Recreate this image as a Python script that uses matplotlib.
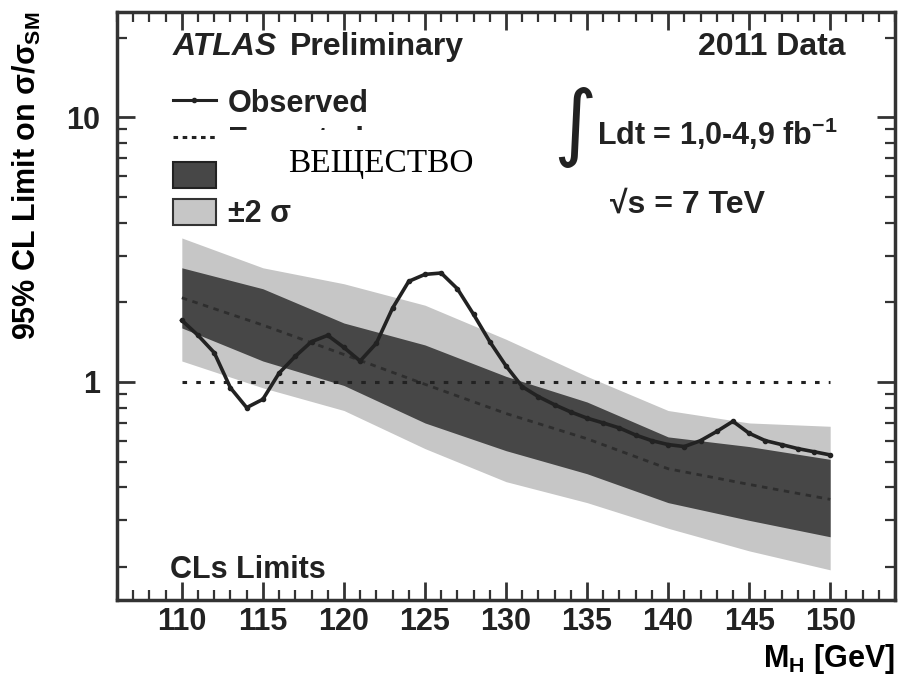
import matplotlib
matplotlib.use("Agg")
import matplotlib.pyplot as plt
from matplotlib.lines import Line2D
from matplotlib.patches import Patch, Rectangle
from matplotlib.ticker import MultipleLocator, FuncFormatter, NullFormatter, LogLocator

# Higgs mass points for the expected limit and bands
mass_band = [110, 115, 120, 125, 130, 135, 140, 145, 150]
exp_lim = [2.08, 1.64, 1.27, 0.98, 0.76, 0.61, 0.47, 0.41, 0.36]
band1_lo = [1.60, 1.20, 0.97, 0.70, 0.55, 0.45, 0.35, 0.30, 0.26]
band1_hi = [2.70, 2.25, 1.67, 1.38, 1.05, 0.84, 0.62, 0.57, 0.51]
band2_lo = [1.20, 0.95, 0.78, 0.56, 0.42, 0.35, 0.28, 0.23, 0.195]
band2_hi = [3.50, 2.70, 2.35, 1.95, 1.45, 1.05, 0.78, 0.70, 0.68]

# observed limit
obs_mass = [110, 111, 112, 113, 114, 115, 116, 117, 118, 119, 120,
            121, 122, 123, 124, 125, 126, 127, 128, 129, 130,
            131, 132, 133, 134, 135, 136, 137, 138, 139, 140,
            141, 142, 143, 144, 145, 146, 147, 148, 149, 150]
obs_lim = [1.71, 1.50, 1.29, 0.95, 0.80, 0.86, 1.08, 1.25, 1.42, 1.50, 1.35,
           1.20, 1.40, 1.90, 2.40, 2.55, 2.58, 2.25, 1.80, 1.42, 1.15,
           0.96, 0.88, 0.82, 0.77, 0.73, 0.70, 0.67, 0.63, 0.60, 0.58,
           0.57, 0.60, 0.65, 0.71, 0.64, 0.60, 0.58, 0.56, 0.545, 0.53]

x_ticks = [110, 115, 120, 125, 130, 135, 140, 145, 150]
leg_labels = ["Observed", "Expected", "±1 σ", "±2 σ"]

INK = "#222222"
DARK = "#474747"
LIGHT = "#c6c6c6"

plt.rcParams["font.family"] = ["Liberation Sans", "DejaVu Sans"]
plt.rcParams["font.weight"] = "bold"
plt.rcParams["axes.labelweight"] = "bold"
plt.rcParams["font.size"] = 22
plt.rcParams["mathtext.fontset"] = "custom"
plt.rcParams["mathtext.rm"] = "Liberation Sans:bold"
plt.rcParams["mathtext.it"] = "Liberation Sans:bold"
plt.rcParams["mathtext.bf"] = "Liberation Sans:bold"
plt.rcParams["text.color"] = INK

fig = plt.figure(figsize=(9.05, 6.87), dpi=100)
ax = fig.add_axes([117 / 905, 1 - 600 / 687, 778 / 905, 588 / 687])

ax.fill_between(mass_band, band2_lo, band2_hi, color=LIGHT, lw=0, zorder=1)
ax.fill_between(mass_band, band1_lo, band1_hi, color=DARK, lw=0, zorder=2)
ax.plot(mass_band, exp_lim, color="#2e2e2e", lw=2, linestyle=(0, (2, 2)), zorder=3)
ax.hlines(1, 110, 150, colors=INK, lw=2.2, linestyles=(0, (1.5, 3)), zorder=3)
ax.plot(obs_mass, obs_lim, color=INK, lw=2.6, marker="o", ms=3, zorder=4)

ax.set_yscale("log")
ax.set_xlim(106, 154)
ax.set_ylim(0.15, 25)

ax.xaxis.set_major_locator(MultipleLocator(5))
ax.xaxis.set_minor_locator(MultipleLocator(1))
ax.set_xticks(x_ticks)
ax.yaxis.set_major_locator(LogLocator(base=10))
ax.yaxis.set_minor_locator(LogLocator(base=10, subs=range(2, 10)))
ax.yaxis.set_major_formatter(FuncFormatter(lambda v, _: f"{v:g}"))
ax.yaxis.set_minor_formatter(NullFormatter())

ax.tick_params(which="both", direction="in", top=True, right=True, colors="#333333")
ax.tick_params(which="major", length=13, width=2)
ax.tick_params(which="minor", length=7, width=1.6)
ax.tick_params(axis="x", pad=5, labelcolor=INK)
ax.tick_params(axis="y", pad=12, labelcolor=INK)
for s in ax.spines.values():
    s.set_linewidth(2.5)
    s.set_color("#333333")

ax.set_xlabel(r"M$_{H}$ [GeV]", loc="right", fontsize=22, fontweight="bold", labelpad=4)
ax.set_ylabel(r"95% CL Limit on $\sigma/\sigma_{SM}$", loc="top", fontsize=22,
              fontweight="bold")
ax.yaxis.set_label_coords(-0.095, 1.0)

# annotations
ax.text(0.072, 0.927, "ATLAS", style="italic", fontsize=23, transform=ax.transAxes, va="baseline")
ax.text(0.222, 0.927, "Preliminary", fontsize=23, transform=ax.transAxes, va="baseline")
ax.text(0.936, 0.927, "2011 Data", fontsize=23, transform=ax.transAxes, ha="right", va="baseline")
ax.text(0.588, 0.804, "∫", family="DejaVu Sans", fontweight="normal", fontsize=60,
        transform=ax.transAxes, ha="center", va="center")
ax.text(0.617, 0.774, r"Ldt = 1,0-4,9 fb$^{-1}$", transform=ax.transAxes, va="baseline")
ax.text(0.634, 0.658, "√s = 7 TeV", fontsize=23, transform=ax.transAxes, va="baseline")
ax.text(0.068, 0.037, "CLs Limits", transform=ax.transAxes, va="baseline")

handles = [
    Line2D([], [], color=INK, lw=2.2, marker="o", ms=3),
    Line2D([], [], color=INK, lw=2.2, linestyle=(0, (1.5, 1.5))),
    Patch(facecolor=DARK, edgecolor=INK, lw=1.5),
    Patch(facecolor=LIGHT, edgecolor="#333333", lw=1.5),
]
ax.legend(handles, leg_labels, loc="upper left", bbox_to_anchor=(0.072, 0.870),
          frameon=False, borderpad=0, borderaxespad=0, handlelength=1.4,
          handletextpad=0.4, labelspacing=0.2, handleheight=0.95,
          prop=dict(family="Liberation Sans", weight="bold", size=22))

# pasted label covering part of the legend
fig.add_artist(Rectangle((222 / 905, 1 - 188 / 687), 268 / 905, 58 / 687,
                         transform=fig.transFigure, facecolor="white",
                         edgecolor="none", zorder=10))
fig.text(288 / 905, 1 - 172 / 687, "ВЕЩЕСТВО", family="Liberation Serif",
         fontweight="normal", fontsize=24, color="black", va="baseline", zorder=11)

fig.savefig("out.png", dpi=100)
